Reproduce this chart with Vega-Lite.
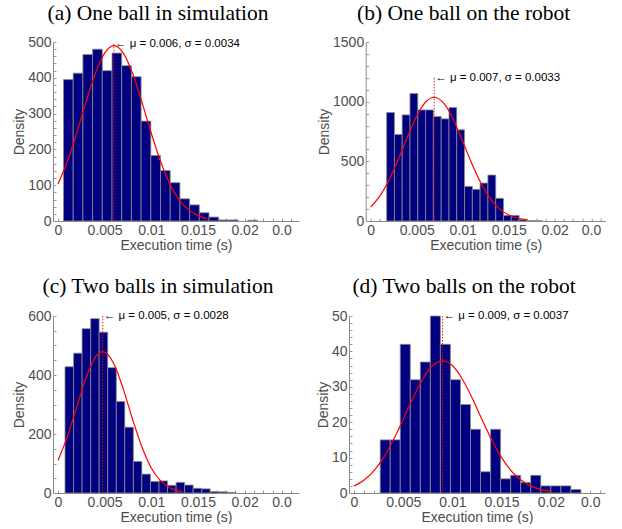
{
  "$schema": "https://vega.github.io/schema/vega-lite/v6.json",
  "padding": {"left": 12, "top": 2, "right": 0, "bottom": 0},
  "spacing": 23,
  "datasets": {
    "a_bars": [
      {"start": 0.00059, "end": 0.00163, "density": 395},
      {"start": 0.00163, "end": 0.00267, "density": 413},
      {"start": 0.00267, "end": 0.00371, "density": 465},
      {"start": 0.00371, "end": 0.00475, "density": 480},
      {"start": 0.00475, "end": 0.00579, "density": 420},
      {"start": 0.00579, "end": 0.00683, "density": 469},
      {"start": 0.00683, "end": 0.00787, "density": 434},
      {"start": 0.00787, "end": 0.00891, "density": 403},
      {"start": 0.00891, "end": 0.00995, "density": 279},
      {"start": 0.00995, "end": 0.01099, "density": 183},
      {"start": 0.01099, "end": 0.01203, "density": 141},
      {"start": 0.01203, "end": 0.01307, "density": 107},
      {"start": 0.01307, "end": 0.01411, "density": 62},
      {"start": 0.01411, "end": 0.01515, "density": 45},
      {"start": 0.01515, "end": 0.01619, "density": 23},
      {"start": 0.01619, "end": 0.01723, "density": 11},
      {"start": 0.01723, "end": 0.01827, "density": 3},
      {"start": 0.01827, "end": 0.01931, "density": 3},
      {"start": 0.02035, "end": 0.02139, "density": 2}
    ],
    "a_curve": [
      {"x": 0, "density": 103}, {"x": 0.001, "density": 166}, {"x": 0.002, "density": 245},
      {"x": 0.003, "density": 332}, {"x": 0.004, "density": 412}, {"x": 0.005, "density": 469},
      {"x": 0.006, "density": 490}, {"x": 0.007, "density": 469}, {"x": 0.008, "density": 412},
      {"x": 0.009, "density": 332}, {"x": 0.010, "density": 245}, {"x": 0.011, "density": 166},
      {"x": 0.012, "density": 103}, {"x": 0.013, "density": 59}, {"x": 0.014, "density": 31},
      {"x": 0.015, "density": 15}, {"x": 0.016, "density": 6.5}
    ],
    "a_ann": [{"mu": 0.006, "top": 495, "label": "← μ = 0.006, σ = 0.0034"}],
    "b_bars": [
      {"start": 0.00173, "end": 0.00258, "density": 909},
      {"start": 0.00258, "end": 0.00342, "density": 725},
      {"start": 0.00342, "end": 0.00427, "density": 889},
      {"start": 0.00427, "end": 0.00512, "density": 1068},
      {"start": 0.00512, "end": 0.00597, "density": 931},
      {"start": 0.00597, "end": 0.00681, "density": 931},
      {"start": 0.00681, "end": 0.00766, "density": 875},
      {"start": 0.00766, "end": 0.00851, "density": 856},
      {"start": 0.00851, "end": 0.00935, "density": 951},
      {"start": 0.00935, "end": 0.0102, "density": 764},
      {"start": 0.0102, "end": 0.01105, "density": 290},
      {"start": 0.01105, "end": 0.01189, "density": 265},
      {"start": 0.01189, "end": 0.01274, "density": 318},
      {"start": 0.01274, "end": 0.01359, "density": 385},
      {"start": 0.01359, "end": 0.01444, "density": 190},
      {"start": 0.01444, "end": 0.01528, "density": 47},
      {"start": 0.01528, "end": 0.01613, "density": 47},
      {"start": 0.01613, "end": 0.01698, "density": 14},
      {"start": 0.01698, "end": 0.01782, "density": 4},
      {"start": 0.01782, "end": 0.01867, "density": 2}
    ],
    "b_curve": [
      {"x": 0, "density": 117}, {"x": 0.001, "density": 210}, {"x": 0.002, "density": 344},
      {"x": 0.003, "density": 516}, {"x": 0.004, "density": 705}, {"x": 0.005, "density": 879},
      {"x": 0.006, "density": 999}, {"x": 0.0069, "density": 1037}, {"x": 0.008, "density": 981},
      {"x": 0.009, "density": 847}, {"x": 0.010, "density": 667}, {"x": 0.011, "density": 479},
      {"x": 0.012, "density": 314}, {"x": 0.013, "density": 188}, {"x": 0.014, "density": 102},
      {"x": 0.015, "density": 51}, {"x": 0.016, "density": 23}, {"x": 0.017, "density": 10}
    ],
    "b_ann": [{"mu": 0.0069, "top": 1200, "label": "← μ = 0.007, σ = 0.0033"}],
    "c_bars": [
      {"start": 0.00075, "end": 0.00167, "density": 428},
      {"start": 0.00167, "end": 0.00258, "density": 474},
      {"start": 0.00258, "end": 0.0035, "density": 557},
      {"start": 0.0035, "end": 0.00441, "density": 591},
      {"start": 0.00441, "end": 0.00533, "density": 545},
      {"start": 0.00533, "end": 0.00625, "density": 425},
      {"start": 0.00625, "end": 0.00716, "density": 310},
      {"start": 0.00716, "end": 0.00808, "density": 223},
      {"start": 0.00808, "end": 0.00899, "density": 107},
      {"start": 0.00899, "end": 0.00991, "density": 64},
      {"start": 0.00991, "end": 0.01083, "density": 39},
      {"start": 0.01083, "end": 0.01174, "density": 41},
      {"start": 0.01174, "end": 0.01266, "density": 26},
      {"start": 0.01266, "end": 0.01357, "density": 36},
      {"start": 0.01357, "end": 0.01449, "density": 27},
      {"start": 0.01449, "end": 0.01541, "density": 16},
      {"start": 0.01541, "end": 0.01632, "density": 14},
      {"start": 0.01632, "end": 0.01724, "density": 5},
      {"start": 0.01724, "end": 0.01815, "density": 4},
      {"start": 0.01815, "end": 0.01907, "density": 2}
    ],
    "c_curve": [
      {"x": 0, "density": 110}, {"x": 0.001, "density": 191}, {"x": 0.002, "density": 291},
      {"x": 0.003, "density": 390}, {"x": 0.004, "density": 460}, {"x": 0.0048, "density": 479},
      {"x": 0.006, "density": 437}, {"x": 0.007, "density": 352}, {"x": 0.008, "density": 249},
      {"x": 0.009, "density": 156}, {"x": 0.010, "density": 85}, {"x": 0.011, "density": 41},
      {"x": 0.012, "density": 18}, {"x": 0.013, "density": 6.6}, {"x": 0.0133, "density": 4.8}
    ],
    "c_ann": [{"mu": 0.0048, "top": 600, "label": "← μ = 0.005, σ = 0.0028"}],
    "d_bars": [
      {"start": 0.00266, "end": 0.00368, "density": 15},
      {"start": 0.00368, "end": 0.0047, "density": 15},
      {"start": 0.0047, "end": 0.00572, "density": 42},
      {"start": 0.00572, "end": 0.00674, "density": 32},
      {"start": 0.00674, "end": 0.00776, "density": 37},
      {"start": 0.00776, "end": 0.00878, "density": 50},
      {"start": 0.00878, "end": 0.0098, "density": 42},
      {"start": 0.0098, "end": 0.01082, "density": 32},
      {"start": 0.01082, "end": 0.01184, "density": 25},
      {"start": 0.01184, "end": 0.01286, "density": 18},
      {"start": 0.01286, "end": 0.01388, "density": 6},
      {"start": 0.01388, "end": 0.0149, "density": 18},
      {"start": 0.0149, "end": 0.01592, "density": 4},
      {"start": 0.01592, "end": 0.01694, "density": 5},
      {"start": 0.01694, "end": 0.01796, "density": 3},
      {"start": 0.01796, "end": 0.01898, "density": 5},
      {"start": 0.01898, "end": 0.02, "density": 2},
      {"start": 0.02, "end": 0.02102, "density": 2},
      {"start": 0.02102, "end": 0.02204, "density": 2},
      {"start": 0.02204, "end": 0.02306, "density": 1}
    ],
    "d_curve": [
      {"x": 0, "density": 1.94}, {"x": 0.001, "density": 3.6}, {"x": 0.002, "density": 6.2},
      {"x": 0.003, "density": 10.0}, {"x": 0.004, "density": 15.0}, {"x": 0.005, "density": 20.8},
      {"x": 0.006, "density": 26.9}, {"x": 0.007, "density": 32.2}, {"x": 0.008, "density": 36.0},
      {"x": 0.009, "density": 37.3}, {"x": 0.010, "density": 36.0}, {"x": 0.011, "density": 32.2},
      {"x": 0.012, "density": 26.9}, {"x": 0.013, "density": 20.8}, {"x": 0.014, "density": 15.0},
      {"x": 0.015, "density": 10.0}, {"x": 0.016, "density": 6.2}, {"x": 0.017, "density": 3.6},
      {"x": 0.018, "density": 1.94}, {"x": 0.019, "density": 0.97}, {"x": 0.020, "density": 0.45}
    ],
    "d_ann": [{"mu": 0.009, "top": 50, "label": "← μ = 0.009, σ = 0.0037"}]
  },
  "vconcat": [
    {
      "bounds": "flush",
      "spacing": 66.7,
      "hconcat": [
        {
          "width": 246, "height": 179,
          "title": {"text": "(a) One ball in simulation", "dx": -18, "offset": 11},
          "layer": [
            {"data": {"name": "a_bars"}, "mark": {"type": "bar", "orient": "vertical", "color": "#000080", "stroke": "#8c8c8c", "strokeWidth": 0.8},
             "encoding": {
               "x": {"field": "start", "type": "quantitative", "title": "Execution time (s)", "scale": {"domain": [0, 0.0253], "nice": false, "zero": false},
                     "axis": {"values": [0, 0.001, 0.002, 0.003, 0.004, 0.005, 0.006, 0.007, 0.008, 0.009, 0.01, 0.011, 0.012, 0.013, 0.014, 0.015, 0.016, 0.017, 0.018, 0.019, 0.02, 0.021, 0.022, 0.023, 0.024, 0.025], "tickCount": 100, "labelOverlap": false, "labelExpr": "abs(datum.value * 200 - round(datum.value * 200)) > 0.001 ? '' : datum.value > 0.0249 ? '0.0' : format(datum.value, '~g')", "labelAlign": {"condition": {"test": "datum.value > 0.0249", "value": "right"}, "value": "center"}}},
               "x2": {"field": "end"},
               "y": {"field": "density", "type": "quantitative", "title": "Density", "scale": {"domain": [0, 500], "nice": false},
                     "axis": {"values": [0, 20, 40, 60, 80, 100, 120, 140, 160, 180, 200, 220, 240, 260, 280, 300, 320, 340, 360, 380, 400, 420, 440, 460, 480, 500], "tickCount": 100, "labelOverlap": false, "labelExpr": "datum.value % 100 == 0 ? format(datum.value, 'd') : ''"}}
             }},
            {"data": {"name": "a_curve"}, "mark": {"type": "line", "color": "#ff0000", "strokeWidth": 1.2, "interpolate": "monotone"},
             "encoding": {
               "x": {"field": "x", "type": "quantitative", "title": "Execution time (s)", "scale": {"domain": [0, 0.0253], "nice": false, "zero": false}},
               "y": {"field": "density", "type": "quantitative", "title": "Density", "scale": {"domain": [0, 500], "nice": false}}
             }},
            {"data": {"name": "a_ann"}, "mark": {"type": "rule", "color": "#ff0000", "strokeDash": [1.5, 1.5], "strokeWidth": 0.9},
             "encoding": {
               "x": {"field": "mu", "type": "quantitative", "title": "Execution time (s)", "scale": {"domain": [0, 0.0253], "nice": false, "zero": false}},
               "y": {"field": "top", "type": "quantitative", "title": "Density", "scale": {"domain": [0, 500], "nice": false}},
               "y2": {"value": "height"}
             }},
            {"data": {"name": "a_ann"}, "mark": {"type": "text", "align": "left", "baseline": "middle", "dx": 1, "font": "Liberation Sans", "fontSize": 11.5, "color": "#000000"},
             "encoding": {
               "x": {"field": "mu", "type": "quantitative", "title": "Execution time (s)", "scale": {"domain": [0, 0.0253], "nice": false, "zero": false}},
               "y": {"field": "top", "type": "quantitative", "title": "Density", "scale": {"domain": [0, 500], "nice": false}},
               "text": {"field": "label"}
             }}
          ]
        },
        {
          "width": 240, "height": 179,
          "title": {"text": "(b) One ball on the robot", "dx": -22, "offset": 11},
          "layer": [
            {"data": {"name": "b_bars"}, "mark": {"type": "bar", "orient": "vertical", "color": "#000080", "stroke": "#8c8c8c", "strokeWidth": 0.8},
             "encoding": {
               "x": {"field": "start", "type": "quantitative", "title": "Execution time (s)", "scale": {"domain": [0, 0.025], "nice": false, "zero": false},
                     "axis": {"values": [0, 0.001, 0.002, 0.003, 0.004, 0.005, 0.006, 0.007, 0.008, 0.009, 0.01, 0.011, 0.012, 0.013, 0.014, 0.015, 0.016, 0.017, 0.018, 0.019, 0.02, 0.021, 0.022, 0.023, 0.024, 0.025], "tickCount": 100, "labelOverlap": false, "labelExpr": "abs(datum.value * 200 - round(datum.value * 200)) > 0.001 ? '' : datum.value > 0.0249 ? '0.0' : format(datum.value, '~g')", "labelAlign": {"condition": {"test": "datum.value > 0.0249", "value": "right"}, "value": "center"}}},
               "x2": {"field": "end"},
               "y": {"field": "density", "type": "quantitative", "title": "Density", "scale": {"domain": [0, 1500], "nice": false},
                     "axis": {"values": [0, 100, 200, 300, 400, 500, 600, 700, 800, 900, 1000, 1100, 1200, 1300, 1400, 1500], "tickCount": 100, "labelOverlap": false, "labelExpr": "datum.value % 500 == 0 ? format(datum.value, 'd') : ''"}}
             }},
            {"data": {"name": "b_curve"}, "mark": {"type": "line", "color": "#ff0000", "strokeWidth": 1.2, "interpolate": "monotone"},
             "encoding": {
               "x": {"field": "x", "type": "quantitative", "title": "Execution time (s)", "scale": {"domain": [0, 0.025], "nice": false, "zero": false}},
               "y": {"field": "density", "type": "quantitative", "title": "Density", "scale": {"domain": [0, 1500], "nice": false}}
             }},
            {"data": {"name": "b_ann"}, "mark": {"type": "rule", "color": "#ff0000", "strokeDash": [1.5, 1.5], "strokeWidth": 0.9},
             "encoding": {
               "x": {"field": "mu", "type": "quantitative", "title": "Execution time (s)", "scale": {"domain": [0, 0.025], "nice": false, "zero": false}},
               "y": {"field": "top", "type": "quantitative", "title": "Density", "scale": {"domain": [0, 1500], "nice": false}},
               "y2": {"value": "height"}
             }},
            {"data": {"name": "b_ann"}, "mark": {"type": "text", "align": "left", "baseline": "middle", "dx": 1, "font": "Liberation Sans", "fontSize": 11.5, "color": "#000000"},
             "encoding": {
               "x": {"field": "mu", "type": "quantitative", "title": "Execution time (s)", "scale": {"domain": [0, 0.025], "nice": false, "zero": false}},
               "y": {"field": "top", "type": "quantitative", "title": "Density", "scale": {"domain": [0, 1500], "nice": false}},
               "text": {"field": "label"}
             }}
          ]
        }
      ]
    },
    {
      "bounds": "flush",
      "spacing": 50,
      "hconcat": [
        {
          "width": 246, "height": 177,
          "title": {"text": "(c) Two balls in simulation", "dx": -18, "offset": 12},
          "layer": [
            {"data": {"name": "c_bars"}, "mark": {"type": "bar", "orient": "vertical", "color": "#000080", "stroke": "#8c8c8c", "strokeWidth": 0.8},
             "encoding": {
               "x": {"field": "start", "type": "quantitative", "title": "Execution time (s)", "scale": {"domain": [0, 0.0253], "nice": false, "zero": false},
                     "axis": {"values": [0, 0.001, 0.002, 0.003, 0.004, 0.005, 0.006, 0.007, 0.008, 0.009, 0.01, 0.011, 0.012, 0.013, 0.014, 0.015, 0.016, 0.017, 0.018, 0.019, 0.02, 0.021, 0.022, 0.023, 0.024, 0.025], "tickCount": 100, "labelOverlap": false, "labelExpr": "abs(datum.value * 200 - round(datum.value * 200)) > 0.001 ? '' : datum.value > 0.0249 ? '0.0' : format(datum.value, '~g')", "labelAlign": {"condition": {"test": "datum.value > 0.0249", "value": "right"}, "value": "center"}}},
               "x2": {"field": "end"},
               "y": {"field": "density", "type": "quantitative", "title": "Density", "scale": {"domain": [0, 600], "nice": false},
                     "axis": {"values": [0, 50, 100, 150, 200, 250, 300, 350, 400, 450, 500, 550, 600], "tickCount": 100, "labelOverlap": false, "labelExpr": "datum.value % 200 == 0 ? format(datum.value, 'd') : ''"}}
             }},
            {"data": {"name": "c_curve"}, "mark": {"type": "line", "color": "#ff0000", "strokeWidth": 1.2, "interpolate": "monotone"},
             "encoding": {
               "x": {"field": "x", "type": "quantitative", "title": "Execution time (s)", "scale": {"domain": [0, 0.0253], "nice": false, "zero": false}},
               "y": {"field": "density", "type": "quantitative", "title": "Density", "scale": {"domain": [0, 600], "nice": false}}
             }},
            {"data": {"name": "c_ann"}, "mark": {"type": "rule", "color": "#ff0000", "strokeDash": [1.5, 1.5], "strokeWidth": 0.9},
             "encoding": {
               "x": {"field": "mu", "type": "quantitative", "title": "Execution time (s)", "scale": {"domain": [0, 0.0253], "nice": false, "zero": false}},
               "y": {"field": "top", "type": "quantitative", "title": "Density", "scale": {"domain": [0, 600], "nice": false}},
               "y2": {"value": "height"}
             }},
            {"data": {"name": "c_ann"}, "mark": {"type": "text", "align": "left", "baseline": "middle", "dx": 1, "font": "Liberation Sans", "fontSize": 11.5, "color": "#000000"},
             "encoding": {
               "x": {"field": "mu", "type": "quantitative", "title": "Execution time (s)", "scale": {"domain": [0, 0.0253], "nice": false, "zero": false}},
               "y": {"field": "top", "type": "quantitative", "title": "Density", "scale": {"domain": [0, 600], "nice": false}},
               "text": {"field": "label"}
             }}
          ]
        },
        {
          "width": 256, "height": 177,
          "title": {"text": "(d) Two balls on the robot", "dx": -13, "offset": 12},
          "layer": [
            {"data": {"name": "d_bars"}, "mark": {"type": "bar", "orient": "vertical", "color": "#000080", "stroke": "#8c8c8c", "strokeWidth": 0.8},
             "encoding": {
               "x": {"field": "start", "type": "quantitative", "title": "Execution time (s)", "scale": {"domain": [0, 0.025], "nice": false, "zero": false},
                     "axis": {"values": [0, 0.001, 0.002, 0.003, 0.004, 0.005, 0.006, 0.007, 0.008, 0.009, 0.01, 0.011, 0.012, 0.013, 0.014, 0.015, 0.016, 0.017, 0.018, 0.019, 0.02, 0.021, 0.022, 0.023, 0.024, 0.025], "tickCount": 100, "labelOverlap": false, "labelExpr": "abs(datum.value * 200 - round(datum.value * 200)) > 0.001 ? '' : datum.value > 0.0249 ? '0.0' : format(datum.value, '~g')", "labelAlign": {"condition": {"test": "datum.value > 0.0249", "value": "right"}, "value": "center"}}},
               "x2": {"field": "end"},
               "y": {"field": "density", "type": "quantitative", "title": "Density", "scale": {"domain": [0, 50], "nice": false},
                     "axis": {"values": [0, 2, 4, 6, 8, 10, 12, 14, 16, 18, 20, 22, 24, 26, 28, 30, 32, 34, 36, 38, 40, 42, 44, 46, 48, 50], "tickCount": 100, "labelOverlap": false, "labelExpr": "datum.value % 10 == 0 ? format(datum.value, 'd') : ''"}}
             }},
            {"data": {"name": "d_curve"}, "mark": {"type": "line", "color": "#ff0000", "strokeWidth": 1.2, "interpolate": "monotone"},
             "encoding": {
               "x": {"field": "x", "type": "quantitative", "title": "Execution time (s)", "scale": {"domain": [0, 0.025], "nice": false, "zero": false}},
               "y": {"field": "density", "type": "quantitative", "title": "Density", "scale": {"domain": [0, 50], "nice": false}}
             }},
            {"data": {"name": "d_ann"}, "mark": {"type": "rule", "color": "#ff0000", "strokeDash": [1.5, 1.5], "strokeWidth": 0.9},
             "encoding": {
               "x": {"field": "mu", "type": "quantitative", "title": "Execution time (s)", "scale": {"domain": [0, 0.025], "nice": false, "zero": false}},
               "y": {"field": "top", "type": "quantitative", "title": "Density", "scale": {"domain": [0, 50], "nice": false}},
               "y2": {"value": "height"}
             }},
            {"data": {"name": "d_ann"}, "mark": {"type": "text", "align": "left", "baseline": "middle", "dx": 1, "font": "Liberation Sans", "fontSize": 11.5, "color": "#000000"},
             "encoding": {
               "x": {"field": "mu", "type": "quantitative", "title": "Execution time (s)", "scale": {"domain": [0, 0.025], "nice": false, "zero": false}},
               "y": {"field": "top", "type": "quantitative", "title": "Density", "scale": {"domain": [0, 50], "nice": false}},
               "text": {"field": "label"}
             }}
          ]
        }
      ]
    }
  ],
  "config": {
    "view": {"stroke": null},
    "font": "Liberation Sans",
    "axis": {
      "domainColor": "#8a8a8a", "tickColor": "#9a9a9a", "labelColor": "#4d4d4d", "titleColor": "#4d4d4d",
      "labelFont": "Liberation Sans", "labelFontSize": 14, "titleFont": "Liberation Sans", "titleFontSize": 14,
      "titleFontWeight": "normal", "grid": false, "tickSize": -3, "labelPadding": 5, "titlePadding": 1,
      "labelFlush": false, "labelOverlap": false
    },
    "title": {"font": "Liberation Serif", "fontSize": 21.5, "fontWeight": "normal", "color": "#000000", "anchor": "middle", "baseline": "alphabetic", "frame": "group"}
  }
}
